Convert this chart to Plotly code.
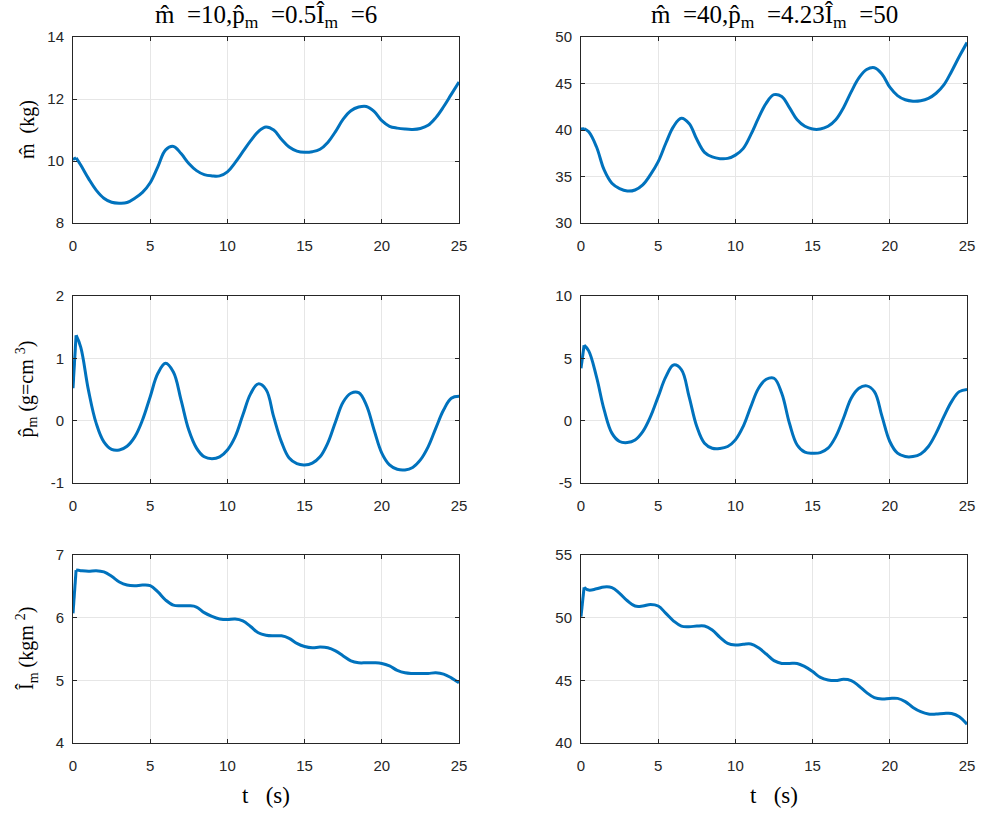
import plotly.graph_objects as go

# ---------------- data ----------------
t = [0, 0.2, 0.5, 1.0, 1.5, 2.0, 2.5, 3.0, 3.5, 4.0, 4.5, 5.0, 5.5, 6.0, 6.5, 7.0, 7.5,
     8.0, 8.5, 9.0, 9.5, 10.0, 10.5, 11.0, 11.5, 12.0, 12.5, 13.0, 13.5, 14.0, 14.5,
     15.0, 15.5, 16.0, 16.5, 17.0, 17.5, 18.0, 18.5, 19.0, 19.5, 20.0, 20.5, 21.0,
     21.5, 22.0, 22.5, 23.0, 23.5, 24.0, 24.5, 25.0]

m_left = [10.05, 10.1, 9.87, 9.44, 9.06, 8.8, 8.67, 8.64, 8.66, 8.8, 8.99, 9.3, 9.82,
          10.36, 10.47, 10.24, 9.92, 9.69, 9.56, 9.52, 9.52, 9.65, 9.95, 10.3, 10.65,
          10.95, 11.1, 11.0, 10.7, 10.45, 10.32, 10.28, 10.3, 10.38, 10.6, 10.95, 11.35,
          11.62, 11.74, 11.76, 11.6, 11.3, 11.12, 11.06, 11.03, 11.02, 11.05, 11.15,
          11.4, 11.75, 12.15, 12.55]

m_right = [40.1, 40.15, 39.8, 38.2, 35.7, 34.27, 33.7, 33.44, 33.55, 34.1, 35.2, 36.6,
           38.6, 40.4, 41.26, 40.7, 39.0, 37.6, 37.1, 36.92, 36.95, 37.3, 38.0, 39.5,
           41.3, 42.9, 43.8, 43.6, 42.4, 41.1, 40.4, 40.1, 40.1, 40.4, 41.1, 42.4, 44.1,
           45.6, 46.5, 46.7, 46.0, 44.6, 43.7, 43.25, 43.1, 43.15, 43.4, 43.95, 44.85,
           46.3, 47.9, 49.4]

p_left = [0.52, 1.37, 1.18, 0.49, -0.04, -0.34, -0.46, -0.47, -0.41, -0.26, 0.01, 0.385,
          0.76, 0.92, 0.78, 0.33, -0.15, -0.44, -0.58, -0.61, -0.58, -0.47, -0.26, 0.09,
          0.43, 0.59, 0.5, 0.06, -0.34, -0.6, -0.69, -0.71, -0.68, -0.58, -0.36, -0.02,
          0.3, 0.44, 0.45, 0.25, -0.15, -0.52, -0.71, -0.78, -0.79, -0.75, -0.63, -0.42,
          -0.12, 0.17, 0.36, 0.39]

p_right = [4.2, 6.05, 5.6, 3.53, 0.86, -1.0, -1.67, -1.76, -1.55, -0.88, 0.32, 1.93,
           3.53, 4.47, 4.1, 1.93, -0.47, -1.81, -2.21, -2.23, -2.07, -1.54, -0.47, 1.13,
           2.6, 3.32, 3.4, 2.2, -0.21, -1.95, -2.53, -2.61, -2.56, -2.21, -1.28, 0.19,
           1.8, 2.6, 2.79, 2.33, 0.32, -1.67, -2.61, -2.88, -2.88, -2.67, -2.07, -1.0,
           0.32, 1.53, 2.33, 2.51]

I_left = [6.07, 6.76, 6.75, 6.74, 6.75, 6.73, 6.66, 6.57, 6.52, 6.51, 6.52, 6.51, 6.41,
          6.28, 6.2, 6.19, 6.19, 6.17, 6.08, 6.02, 5.98, 5.97, 5.98, 5.95, 5.86, 5.76,
          5.72, 5.71, 5.71, 5.67, 5.59, 5.54, 5.52, 5.53, 5.52, 5.47, 5.39, 5.31, 5.28,
          5.28, 5.28, 5.27, 5.23, 5.16, 5.12, 5.11, 5.11, 5.11, 5.12, 5.1, 5.04, 4.96]

I_right = [50.08, 52.42, 52.2, 52.3, 52.45, 52.4, 51.94, 51.35, 50.93, 50.93, 51.06,
           50.93, 50.34, 49.73, 49.33, 49.28, 49.33, 49.33, 49.01, 48.43, 47.95, 47.82,
           47.87, 47.9, 47.6, 47.1, 46.57, 46.35, 46.35, 46.35, 46.09, 45.7, 45.24, 45.03,
           44.98, 45.08, 44.98, 44.55, 44.02, 43.62, 43.51, 43.56, 43.56, 43.3, 42.84,
           42.5, 42.31, 42.31, 42.36, 42.36, 42.1, 41.5]

x_ticks = [0, 5, 10, 15, 20, 25]
y_ranges = [[8, 14], [30, 50], [-1, 2], [-5, 10], [4, 7], [40, 55]]
y_ticks = [[8, 10, 12, 14], [30, 35, 40, 45, 50], [-1, 0, 1, 2], [-5, 0, 5, 10],
           [4, 5, 6, 7], [40, 45, 50, 55]]

SP = "&nbsp;&nbsp;"
titles = [f"m\u0302{SP}=10,p\u0302<sub>m</sub>{SP}=0.5\u00ce<sub>m</sub>{SP}=6",
          f"m\u0302{SP}=40,p\u0302<sub>m</sub>{SP}=4.23\u00ce<sub>m</sub>{SP}=50"]
y_labels = ["m\u0302&nbsp;&nbsp;(kg)", "p\u0302<sub>m</sub> (g=cm <sup>3</sup>)",
            "\u00ce<sub>m</sub> (kgm <sup>2</sup>)"]
x_label = "t&nbsp;&nbsp;&nbsp;(s)"

# ---------------- layout ----------------
W, H = 984, 814
col_px = [(73, 459), (581, 967)]
row_px = [(37, 223), (296, 483), (555, 743)]

series = [m_left, m_right, p_left, p_right, I_left, I_right]

fig = go.Figure()
LINE = "#0072BD"
AX = "#262626"
GRID = "#E6E6E6"
sans = "Liberation Sans, Arial, sans-serif"
serif = "Liberation Serif, DejaVu Serif, serif"

layout = dict(width=W, height=H,
              margin=dict(l=0, r=0, t=0, b=0, autoexpand=False),
              paper_bgcolor="white", plot_bgcolor="white", showlegend=False,
              font=dict(family=sans, color=AX))

for i, ys in enumerate(series):
    r, c = divmod(i, 2)
    n = i + 1
    xa = "x" if n == 1 else f"x{n}"
    ya = "y" if n == 1 else f"y{n}"
    # steep initial transient: straight segment, then smooth curve
    fig.add_trace(go.Scatter(x=t[:2], y=ys[:2], mode="lines", xaxis=xa, yaxis=ya,
                             line=dict(color=LINE, width=3)))
    fig.add_trace(go.Scatter(x=t[1:], y=ys[1:], mode="lines", xaxis=xa, yaxis=ya,
                             line=dict(color=LINE, width=3, shape="spline", smoothing=1.1)))
    x0, x1 = col_px[c]
    y0, y1 = row_px[r]
    common = dict(showline=True, linecolor=AX, linewidth=1, mirror="allticks",
                  ticks="inside", ticklen=4, tickcolor=AX, showgrid=True,
                  gridcolor=GRID, gridwidth=1, zeroline=False, automargin=False,
                  tickfont=dict(size=15, color=AX, family=sans))
    layout["xaxis" if n == 1 else f"xaxis{n}"] = dict(
        domain=[x0 / W, x1 / W], range=[0, 25], tickvals=x_ticks,
        ticktext=[str(v) for v in x_ticks], ticklabelstandoff=9,
        anchor=ya, **common)
    layout["yaxis" if n == 1 else f"yaxis{n}"] = dict(
        domain=[1 - y1 / H, 1 - y0 / H], range=y_ranges[i], tickvals=y_ticks[i],
        ticktext=[str(v) for v in y_ticks[i]], ticklabelstandoff=5,
        anchor=xa, **common)

fig.update_layout(**layout)

for c in range(2):
    xc = (col_px[c][0] + col_px[c][1]) / 2 / W
    fig.add_annotation(text=titles[c], xref="paper", yref="paper", x=xc, y=1 - 17 / H,
                       showarrow=False, xanchor="center", yanchor="middle",
                       font=dict(family=serif, size=25, color="#000000"))
    fig.add_annotation(text=x_label, xref="paper", yref="paper", x=xc, y=1 - 795 / H,
                       showarrow=False, xanchor="center", yanchor="middle",
                       font=dict(family=serif, size=23, color="#000000"))

for r in range(3):
    yc = (row_px[r][0] + row_px[r][1]) / 2
    fig.add_annotation(text=y_labels[r], xref="paper", yref="paper", x=27 / W,
                       y=1 - yc / H, showarrow=False, textangle=-90,
                       xanchor="center", yanchor="middle",
                       font=dict(family=serif, size=20, color="#000000"))

fig.write_html("out.html", config={"displayModeBar": False},
               post_script="document.body.style.margin='0px';")
